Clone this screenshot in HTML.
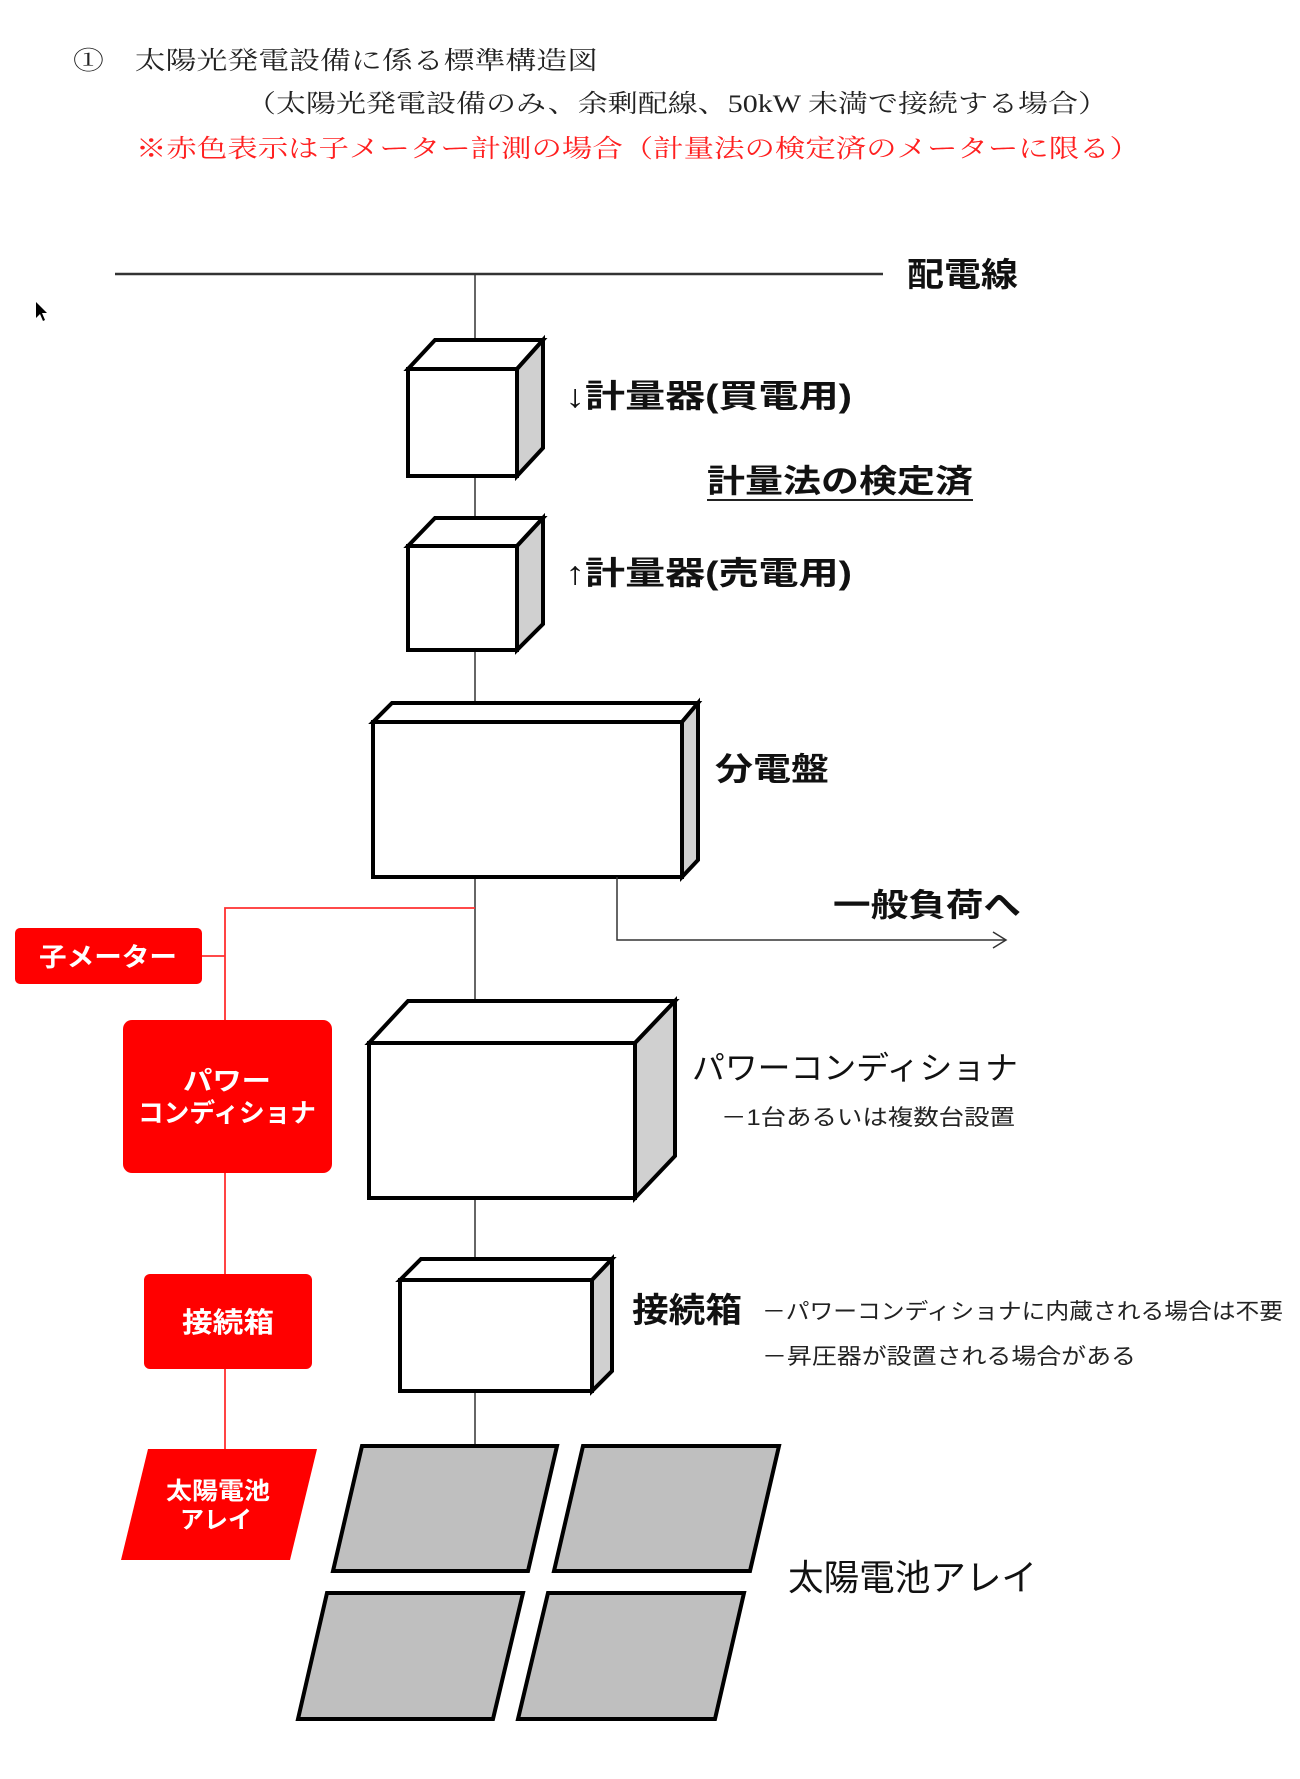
<!DOCTYPE html>
<html><head><meta charset="utf-8"><style>
html,body{margin:0;padding:0;background:#fff;}
svg{display:block;}
.s{font-family:"Liberation Serif","Noto Serif CJK SC",serif;}
.g{font-family:"Liberation Sans","Noto Sans CJK JP",sans-serif;}
</style></head><body>
<svg width="1300" height="1779" viewBox="0 0 1300 1779" xmlns="http://www.w3.org/2000/svg">
<!-- header -->
<text class="s" x="73" y="69" font-size="25" fill="#222" textLength="525" lengthAdjust="spacingAndGlyphs">①　太陽光発電設備に係る標準構造図</text>
<text class="s" x="246" y="112" font-size="25" fill="#222" textLength="862" lengthAdjust="spacingAndGlyphs">（太陽光発電設備のみ、余剰配線、50kW 未満で接続する場合）</text>
<text class="s" x="136" y="157" font-size="25" fill="#ff2020" textLength="1004" lengthAdjust="spacingAndGlyphs">※赤色表示は子メーター計測の場合（計量法の検定済のメーターに限る）</text>

<!-- cursor -->
<path d="M36 302 L36 318 L40 314 L43 321 L45 320 L42 313 L47 313 Z" fill="#000"/>

<!-- main line -->
<line x1="115" y1="274" x2="883" y2="274" stroke="#333" stroke-width="2.5"/>
<text class="g" x="907" y="286" font-size="33" font-weight="bold" fill="#111" textLength="111" lengthAdjust="spacingAndGlyphs">配電線</text>
<line x1="475" y1="274" x2="475" y2="1446" stroke="#333" stroke-width="1.5"/>

<g stroke="#000" stroke-width="4" stroke-linejoin="miter">
<!-- meter 1 -->
<polygon points="408,369 435,340 543,340 517,369" fill="#fff"/>
<polygon points="517,369 543,340 543,448 517,476" fill="#d0d0d0"/>
<rect x="408" y="369" width="109" height="107" fill="#fff"/>
<!-- meter 2 -->
<polygon points="408,546 435,518 543,518 517,546" fill="#fff"/>
<polygon points="517,546 543,518 543,624 517,650" fill="#d0d0d0"/>
<rect x="408" y="546" width="109" height="104" fill="#fff"/>
<!-- panel board -->
<polygon points="373,722 392,703 698,703 682,722" fill="#fff"/>
<polygon points="682,722 698,703 698,860 682,877" fill="#d0d0d0"/>
<rect x="373" y="722" width="309" height="155" fill="#fff"/>
<!-- power conditioner -->
<polygon points="369,1043 408,1001 675,1001 635,1043" fill="#fff"/>
<polygon points="635,1043 675,1001 675,1156 635,1198" fill="#d0d0d0"/>
<rect x="369" y="1043" width="266" height="155" fill="#fff"/>
<!-- junction box -->
<polygon points="400,1280 421,1259 612,1259 592,1280" fill="#fff"/>
<polygon points="592,1280 612,1259 612,1371 592,1391" fill="#d0d0d0"/>
<rect x="400" y="1280" width="192" height="111" fill="#fff"/>
<!-- solar panels -->
<polygon points="362,1446 557,1446 528,1571 333,1571" fill="#bfbfbf"/>
<polygon points="583,1446 779,1446 750,1571 554,1571" fill="#bfbfbf"/>
<polygon points="327,1593 523,1593 493,1719 298,1719" fill="#bfbfbf"/>
<polygon points="548,1593 744,1593 715,1719 518,1719" fill="#bfbfbf"/>
</g>

<!-- labels -->
<text class="g" x="565" y="407" font-size="32" font-weight="bold" fill="#111" textLength="287" lengthAdjust="spacingAndGlyphs">↓計量器(買電用)</text>
<text class="g" x="707" y="492" font-size="32" font-weight="bold" fill="#111" textLength="266" lengthAdjust="spacingAndGlyphs">計量法の検定済</text>
<line x1="707" y1="500" x2="973" y2="500" stroke="#222" stroke-width="2"/>
<text class="g" x="565" y="584" font-size="32" font-weight="bold" fill="#111" textLength="287" lengthAdjust="spacingAndGlyphs">↑計量器(売電用)</text>
<text class="g" x="715" y="780" font-size="32" font-weight="bold" fill="#111" textLength="114" lengthAdjust="spacingAndGlyphs">分電盤</text>

<!-- general load -->
<polyline points="617,877 617,940 1005,940" fill="none" stroke="#333" stroke-width="1.5"/>
<polyline points="993,932 1006,940 993,948" fill="none" stroke="#333" stroke-width="1.5"/>
<text class="g" x="833" y="916" font-size="32" font-weight="bold" fill="#111" textLength="188" lengthAdjust="spacingAndGlyphs">一般負荷へ</text>

<text class="g" x="692" y="1079" font-size="32" fill="#111" textLength="326" lengthAdjust="spacingAndGlyphs">パワーコンディショナ</text>
<text class="g" x="721" y="1125" font-size="22" fill="#222" textLength="294" lengthAdjust="spacingAndGlyphs">－1台あるいは複数台設置</text>

<text class="g" x="632" y="1322" font-size="34" font-weight="bold" fill="#111" textLength="110" lengthAdjust="spacingAndGlyphs">接続箱</text>
<text class="g" x="762" y="1319" font-size="22" fill="#222" textLength="521" lengthAdjust="spacingAndGlyphs">－パワーコンディショナに内蔵される場合は不要</text>
<text class="g" x="762" y="1364" font-size="22" fill="#222" textLength="374" lengthAdjust="spacingAndGlyphs">－昇圧器が設置される場合がある</text>

<text class="g" x="788" y="1590" font-size="36" fill="#111" textLength="249" lengthAdjust="spacingAndGlyphs">太陽電池アレイ</text>

<!-- red sub-meter path -->
<g stroke="#ff3030" stroke-width="1.8" fill="none">
<polyline points="475,908 225,908 225,1449"/>
<line x1="202" y1="956" x2="225" y2="956"/>
</g>
<rect x="15" y="928" width="187" height="56" rx="5" fill="#ff0000"/>
<text class="g" x="108" y="966" font-size="26" font-weight="bold" fill="#fff" text-anchor="middle" textLength="138" lengthAdjust="spacingAndGlyphs">子メーター</text>
<rect x="123" y="1020" width="209" height="153" rx="9" fill="#ff0000"/>
<text class="g" x="227" y="1090" font-size="26" font-weight="bold" fill="#fff" text-anchor="middle" textLength="88" lengthAdjust="spacingAndGlyphs">パワー</text>
<text class="g" x="227" y="1122" font-size="26" font-weight="bold" fill="#fff" text-anchor="middle" textLength="178" lengthAdjust="spacingAndGlyphs">コンディショナ</text>
<rect x="144" y="1274" width="168" height="95" rx="6" fill="#ff0000"/>
<text class="g" x="228" y="1332" font-size="28" font-weight="bold" fill="#fff" text-anchor="middle" textLength="92" lengthAdjust="spacingAndGlyphs">接続箱</text>
<polygon points="148,1449 317,1449 290,1560 121,1560" fill="#ff0000"/>
<text class="g" x="218" y="1499" font-size="24" font-weight="bold" fill="#fff" text-anchor="middle" textLength="104" lengthAdjust="spacingAndGlyphs">太陽電池</text>
<text class="g" x="216" y="1528" font-size="24" font-weight="bold" fill="#fff" text-anchor="middle" textLength="72" lengthAdjust="spacingAndGlyphs">アレイ</text>
</svg>
</body></html>
